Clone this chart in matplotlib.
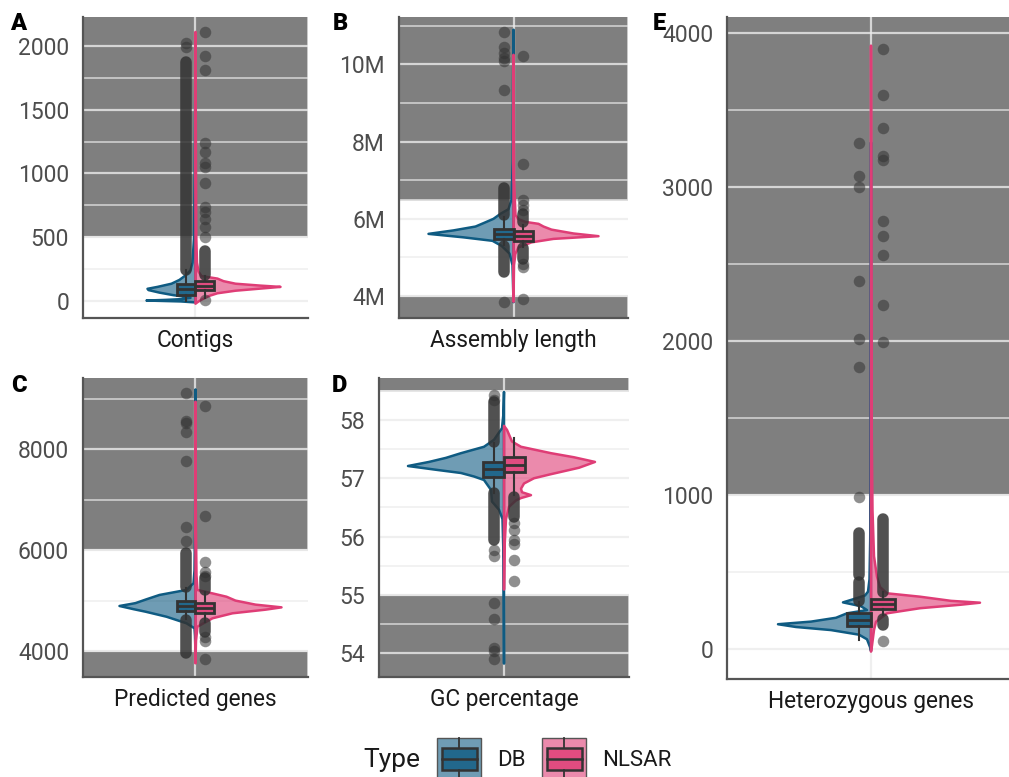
import numpy as np
import matplotlib
matplotlib.use("Agg")
import matplotlib.pyplot as plt
from matplotlib.patches import Polygon, Rectangle
from matplotlib.colors import to_rgba
from matplotlib.ticker import MultipleLocator, FuncFormatter

plt.rcParams['font.family'] = ['Roboto', 'DejaVu Sans']

DB_COL = '#0f5b82'
NL_COL = '#df3d76'
PT_COL = '#333333'
GRID_COL = '#ebebeb'
SHADE_COL = '#7f7f7f'

W, H = 1009, 777

# ---------- A: contigs ----------
contigs_db_y = [-12, -4, 3, 8, 14, 24, 32, 45, 65, 85, 95, 110, 135, 165, 200, 240, 300, 500, 1000, 2030]
contigs_db_dens = [0, 15, 49, 30, 14, 5, 10, 22, 36, 47, 48, 38, 24, 16, 10, 5, 3, 1.5, 0.8, 0]
contigs_nl_y = [-22, -10, 10, 40, 60, 80, 100, 110, 120, 135, 155, 175, 195, 230, 300, 500, 1000, 2110]
contigs_nl_dens = [0, 2, 6, 14, 22, 40, 70, 85, 65, 40, 28, 22, 6, 3, 1.5, 0.8, 0.5, 0]
contigs_db_box = [0, 45, 90, 130, 240]
contigs_nl_box = [20, 85, 115, 155, 195]
contigs_db_out = [1990, 2025]
contigs_db_runs = [(245, 1875)]
contigs_nl_out = [2113, 1921, 1810, 1237, 1171, 1084, 1053, 921, 737, 697, 645, 579, 505, 5]
contigs_nl_runs = [(205, 395)]

# ---------- B: assembly length (Mb) ----------
length_db_y = [3.84, 4.8, 5.1, 5.3, 5.43, 5.52, 5.61, 5.7, 5.8, 5.91, 6.0, 6.13, 6.25, 6.5, 7.5, 9.5, 10.9]
length_db_dens = [0, 1, 4, 12, 21, 50, 85, 60, 38, 28, 20, 13, 5, 2, 0.8, 0.5, 0]
length_nl_y = [3.85, 4.8, 5.1, 5.26, 5.39, 5.48, 5.55, 5.62, 5.72, 5.8, 5.87, 5.92, 5.99, 6.1, 7.0, 10.25]
length_nl_dens = [0, 0.5, 2, 5, 18, 40, 85, 60, 38, 30, 25, 12, 5, 2, 0.6, 0]
length_db_box = [5.32, 5.48, 5.6, 5.74, 6.05]
length_nl_box = [5.28, 5.42, 5.55, 5.68, 5.85]
length_db_out = [10.85, 10.44, 10.30, 10.17, 10.09, 9.33, 3.84]
length_db_runs = [(6.1, 6.8), (4.61, 5.3)]
length_nl_out = [10.22, 7.42, 6.50, 6.37, 6.24, 4.83, 4.74, 3.93]
length_nl_runs = [(5.92, 6.12), (4.97, 5.24)]

# ---------- C: predicted genes ----------
genes_db_y = [3950, 4300, 4450, 4550, 4680, 4780, 4830, 4893, 4950, 5026, 5112, 5212, 5344, 5600, 6500, 9190]
genes_db_dens = [0, 0.5, 1, 9, 29, 50, 62, 76, 60, 49, 36, 9, 2, 1, 0.5, 0]
genes_nl_y = [3755, 4200, 4483, 4649, 4748, 4820, 4866, 4920, 5000, 5077, 5143, 5210, 5500, 6500, 8946]
genes_nl_dens = [0, 0.5, 2, 17, 37, 70, 86, 60, 40, 31, 17, 2, 1, 0.4, 0]
genes_db_box = [4640, 4790, 4890, 5000, 5250]
genes_nl_box = [4570, 4750, 4850, 4960, 5180]
genes_db_out = [9113, 8563, 8518, 8351, 7770, 6466, 6183]
genes_db_runs = [(5276, 5950), (3954, 4615)]
genes_nl_out = [8861, 6679, 5772, 5573, 5488, 4284, 4204, 3841]
genes_nl_runs = [(5212, 5440), (4384, 4549)]

# ---------- D: GC percentage ----------
gc_db_y = [53.82, 55.6, 56.3, 56.46, 56.6, 56.8, 56.97, 57.03, 57.09, 57.15, 57.21, 57.28, 57.35, 57.43,
           57.54, 57.66, 57.86, 58.1, 58.48]
gc_db_dens = [0, 0.4, 1.5, 5, 12, 13, 20, 30, 43, 70, 96, 75, 58, 43, 20, 10, 2, 0.6, 0]
gc_nl_y = [55.09, 55.8, 56.3, 56.51, 56.62, 56.66, 56.71, 56.76, 56.82, 56.91, 57.0, 57.07, 57.18, 57.28,
           57.36, 57.43, 57.54, 57.63, 57.83, 57.9]
gc_nl_dens = [0, 0.5, 2, 5, 12, 17, 27, 18, 17, 20, 30, 47, 75, 91, 70, 47, 17, 8, 3, 0]
gc_db_box = [56.75, 57.03, 57.16, 57.28, 57.6]
gc_nl_box = [56.71, 57.10, 57.23, 57.36, 57.69]
gc_db_out = [58.43, 58.34, 55.77, 55.67, 54.86, 54.58, 54.09, 54.04, 53.90]
gc_db_runs = [(57.63, 58.3), (55.94, 56.74)]
gc_nl_out = [56.23, 56.11, 55.94, 55.87, 55.60, 55.24]
gc_nl_runs = [(56.33, 56.68)]

# ---------- E: heterozygous genes ----------
het_db_y = [-15, 10, 60, 90, 120, 140, 158, 175, 200, 229, 250, 275, 300, 320, 345, 370, 450, 700, 1000, 3290]
het_db_dens = [0, 1, 4, 12, 40, 75, 93, 60, 35, 24, 4, 10, 28, 18, 6, 3, 1.5, 0.8, 0.4, 0]
het_nl_y = [-20, 20, 120, 174, 229, 262, 285, 298, 310, 337, 359, 400, 467, 600, 900, 1500, 3919]
het_nl_dens = [0, 1, 3, 5, 16, 49, 90, 109, 80, 49, 16, 9, 6, 3, 1.5, 0.6, 0]
het_db_box = [55, 146, 185, 229, 300]
het_nl_box = [220, 258, 290, 320, 365]
het_db_out = [3288, 3069, 3003, 2388, 2012, 1832, 982]
het_db_runs = [(480, 750), (310, 430)]
het_nl_out = [3895, 3598, 3385, 3204, 3174, 2778, 2679, 2559, 2232, 1991, 46]
het_nl_runs = [(370, 840), (150, 195)]

panels = [
    dict(tag='A', label='Contigs', rect=(83, 17, 308, 318), ylim=(-134, 2227), major=500, minor=250,
         shade=(None, 500), fmt=lambda v, p: f'{v:.0f}',
         db=(contigs_db_y, contigs_db_dens, contigs_db_box, contigs_db_out, contigs_db_runs),
         nl=(contigs_nl_y, contigs_nl_dens, contigs_nl_box, contigs_nl_out, contigs_nl_runs)),
    dict(tag='B', label='Assembly length', rect=(399, 17, 628, 318), ylim=(3.43, 11.23), major=2, minor=1,
         shade=(4.0, 6.5), fmt=lambda v, p: f'{v:.0f}M',
         db=(length_db_y, length_db_dens, length_db_box, length_db_out, length_db_runs),
         nl=(length_nl_y, length_nl_dens, length_nl_box, length_nl_out, length_nl_runs)),
    dict(tag='C', label='Predicted genes', rect=(83, 378, 308, 677), ylim=(3484, 9417), major=2000, minor=1000,
         shade=(4000, 6000), fmt=lambda v, p: f'{v:.0f}',
         db=(genes_db_y, genes_db_dens, genes_db_box, genes_db_out, genes_db_runs),
         nl=(genes_nl_y, genes_nl_dens, genes_nl_box, genes_nl_out, genes_nl_runs)),
    dict(tag='D', label='GC percentage', rect=(379, 378, 629, 677), ylim=(53.59, 58.72), major=1, minor=0.5,
         shade=(55, 58.5), fmt=lambda v, p: f'{v:.0f}',
         db=(gc_db_y, gc_db_dens, gc_db_box, gc_db_out, gc_db_runs),
         nl=(gc_nl_y, gc_nl_dens, gc_nl_box, gc_nl_out, gc_nl_runs)),
    dict(tag='E', label='Heterozygous genes', rect=(727, 17, 1015, 679), ylim=(-198, 4105), major=1000, minor=500,
         shade=(None, 1000), fmt=lambda v, p: f'{v:.0f}',
         db=(het_db_y, het_db_dens, het_db_box, het_db_out, het_db_runs),
         nl=(het_nl_y, het_nl_dens, het_nl_box, het_nl_out, het_nl_runs)),
]

label_pos = {'A': (10, 12), 'B': (333, 12), 'C': (11, 374), 'D': (332, 374), 'E': (653, 12)}

DODGE = 0.05
PT_SIZE = 8.3


def half_violin(ax, y, dens, side, color, px_scale):
    x = side * np.asarray(dens) * px_scale
    poly = Polygon(np.column_stack([x, y]), closed=True, facecolor=to_rgba(color, 0.6),
                   edgecolor=color, linewidth=1.8, joinstyle='round', zorder=2)
    ax.add_patch(poly)


def draw_group(ax, data, side, color, px_scale):
    y, dens, box, outl, runs = data
    pos = side * DODGE
    half_violin(ax, y, dens, side, color, px_scale)
    for lo, hi in runs:
        ax.plot([pos, pos], [lo, hi], color=PT_COL, alpha=0.85, lw=PT_SIZE,
                solid_capstyle='round', zorder=3)
    ax.scatter([pos] * len(outl), outl, s=PT_SIZE ** 2, color=PT_COL, alpha=0.55,
               linewidths=0, zorder=3)
    stats = [dict(whislo=box[0], q1=box[1], med=box[2], q3=box[3], whishi=box[4], fliers=[])]
    ax.bxp(stats, positions=[pos], widths=0.1, patch_artist=True, showfliers=False,
           showcaps=False, manage_ticks=False, zorder=4,
           boxprops=dict(facecolor=to_rgba(color, 0.8), edgecolor=PT_COL, linewidth=2.0),
           whiskerprops=dict(color=PT_COL, linewidth=1.5),
           medianprops=dict(color=PT_COL, linewidth=2.0))


fig = plt.figure(figsize=(W / 100, H / 100), dpi=100)

for p in panels:
    l, t, r, b = p['rect']
    ax = fig.add_axes([l / W, 1 - b / H, (r - l) / W, (b - t) / H])
    ax.set_xlim(-0.6, 0.6)
    ax.set_ylim(*p['ylim'])
    px_scale = 1.2 / (r - l)

    lo, hi = p['shade']
    if lo is not None:
        ax.axhspan(p['ylim'][0] - 1e6, lo, facecolor=SHADE_COL, edgecolor='#d9d9d9', lw=1.2, zorder=0.2)
    if hi is not None:
        ax.axhspan(hi, p['ylim'][1] + 1e6, facecolor=SHADE_COL, edgecolor='#d9d9d9', lw=1.2, zorder=0.2)

    ax.set_axisbelow(True)
    ax.yaxis.set_major_locator(MultipleLocator(p['major']))
    ax.yaxis.set_minor_locator(MultipleLocator(p['minor']))
    ax.yaxis.set_major_formatter(FuncFormatter(p['fmt']))
    ax.grid(axis='y', which='major', color=GRID_COL, lw=1.6, alpha=0.8)
    ax.grid(axis='y', which='minor', color=GRID_COL, lw=1.1, alpha=0.8)
    ax.grid(axis='x', which='major', color=GRID_COL, lw=1.6, alpha=0.8)

    draw_group(ax, p['db'], -1, DB_COL, px_scale)
    draw_group(ax, p['nl'], 1, NL_COL, px_scale)

    ax.set_xticks([0])
    ax.set_xticklabels([p['label']], fontsize=16.3, color='#1a1a1a')
    ax.tick_params(axis='y', which='both', length=0, pad=10, labelsize=16.5, labelcolor='#4d4d4d')
    ax.tick_params(axis='x', length=0, pad=8)
    for s in ('top', 'right'):
        ax.spines[s].set_visible(False)
    for s in ('left', 'bottom'):
        ax.spines[s].set_color('#555555')
        ax.spines[s].set_linewidth(1.6)
        ax.spines[s].set_zorder(5)

    tx, ty = label_pos[p['tag']]
    fig.text(tx / W, 1 - ty / H, p['tag'], fontsize=17, fontweight='black', va='top', ha='left')

# legend drawn in pixel coordinates along the bottom
lax = fig.add_axes([0, 0, 1, 1], zorder=10)
lax.set_xlim(0, W)
lax.set_ylim(H, 0)
lax.axis('off')
lax.text(363, 760, 'Type', fontsize=19, va='center', ha='left', color='#1a1a1a')
for x0, col, name in [(437, DB_COL, 'DB'), (542, NL_COL, 'NLSAR')]:
    lax.add_patch(Rectangle((x0, 738), 44, 60, facecolor=to_rgba(col, 0.6), edgecolor='#555555', lw=1.0))
    lax.add_patch(Rectangle((x0 + 4.5, 748), 35, 22, facecolor=to_rgba(col, 0.8), edgecolor=PT_COL, lw=1.8))
    lax.plot([x0 + 4.5, x0 + 39.5], [759, 759], color=PT_COL, lw=1.8)
    lax.plot([x0 + 22, x0 + 22], [738, 748], color=PT_COL, lw=1.3)
    lax.plot([x0 + 22, x0 + 22], [770, 780], color=PT_COL, lw=1.3)
    lax.text(x0 + 60, 760, name, fontsize=16, va='center', ha='left', color='#1a1a1a')

fig.savefig('out.png', dpi=100)
